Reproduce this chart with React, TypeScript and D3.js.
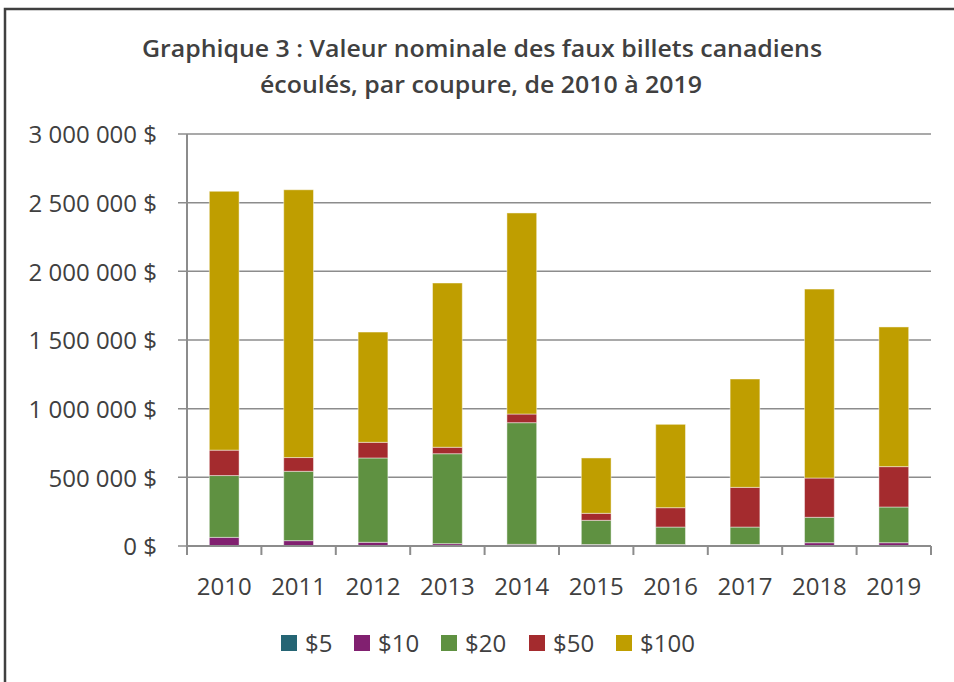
import * as d3 from 'd3';
import { useEffect, useRef } from 'react';

// values (dollars)
const years = ['2010', '2011', '2012', '2013', '2014', '2015', '2016', '2017', '2018', '2019'];
const denominations = ['$5', '$10', '$20', '$50', '$100'];
const v5 = [3000, 2000, 2000, 2000, 2000, 2000, 2000, 2000, 3000, 3000];
const v10 = [60000, 37000, 25000, 15000, 10000, 9000, 9000, 9000, 21000, 21000];
const v20 = [450000, 505000, 614000, 655000, 886000, 176000, 127000, 127000, 185000, 260000];
const v50 = [185000, 100000, 114000, 47000, 63000, 51000, 141000, 289000, 286000, 294000];
const v100 = [1885000, 1950000, 803000, 1196000, 1464000, 403000, 607000, 789000, 1376000, 1017000];
const yTicks = [0, 500000, 1000000, 1500000, 2000000, 2500000, 3000000];
const colors = ['#256574', '#812070', '#5f9141', '#a42b2e', '#bf9e00'];

export default function App() {
  const svgRef = useRef<SVGSVGElement>(null);
  const width = 954;
  const height = 682;
  const marginLeft = 187;
  const marginRight = 23;
  const marginTop = 134;
  const marginBottom = 136;

  useEffect(() => {
    const svg = d3.select(svgRef.current);
    svg.selectAll('*').remove();
    const font = "'Segoe UI', 'Open Sans', sans-serif";
    const textColor = '#404040';
    const axisColor = '#8c8c8c';

    const table = years.map((y, i) => ({
      year: y,
      $5: v5[i],
      $10: v10[i],
      $20: v20[i],
      $50: v50[i],
      $100: v100[i]
    }));
    const series = d3.stack().keys(denominations)(table as any);

    const x = d3
      .scaleBand()
      .domain(years)
      .range([marginLeft, width - marginRight])
      .paddingInner(0.6)
      .paddingOuter(0.3);
    const y = d3
      .scaleLinear()
      .domain([0, 3000000])
      .range([height - marginBottom, marginTop]);

    // frame
    svg
      .append('path')
      .attr('d', `M5,${height} V9 H${width}`)
      .attr('fill', 'none')
      .attr('stroke', '#404040')
      .attr('stroke-width', 2.5);

    // title
    const title = svg
      .append('text')
      .attr('text-anchor', 'middle')
      .attr('font-family', font)
      .attr('font-weight', 600)
      .attr('font-size', 23)
      .attr('fill', textColor);
    title
      .append('tspan')
      .attr('x', 482)
      .attr('y', 57)
      .attr('textLength', 680)
      .attr('lengthAdjust', 'spacingAndGlyphs')
      .text('Graphique 3 : Valeur nominale des faux billets canadiens');
    title
      .append('tspan')
      .attr('x', 481)
      .attr('y', 93)
      .attr('textLength', 442)
      .attr('lengthAdjust', 'spacingAndGlyphs')
      .text('écoulés, par coupure, de 2010 à 2019');

    // grid + y axis labels
    const gy = svg.append('g');
    gy.selectAll('line.grid')
      .data(yTicks)
      .join('line')
      .attr('x1', marginLeft - 9)
      .attr('x2', width - marginRight)
      .attr('y1', (d) => y(d))
      .attr('y2', (d) => y(d))
      .attr('stroke', axisColor)
      .attr('stroke-width', 1.5);
    gy.selectAll('text')
      .data(yTicks)
      .join('text')
      .attr('x', 157)
      .attr('y', (d) => y(d) + 1)
      .attr('dy', '0.35em')
      .attr('text-anchor', 'end')
      .attr('font-family', font)
      .attr('font-size', 24)
      .attr('fill', textColor)
      .text((d) => d3.format(',')(d).replace(/,/g, '\u00a0') + '\u00a0$');
    gy.append('line')
      .attr('x1', marginLeft)
      .attr('x2', marginLeft)
      .attr('y1', marginTop)
      .attr('y2', height - marginBottom)
      .attr('stroke', axisColor)
      .attr('stroke-width', 2);

    // bars
    svg
      .append('g')
      .selectAll('g')
      .data(series)
      .join('g')
      .attr('fill', (d, i) => colors[i])
      .selectAll('rect')
      .data((d) => d)
      .join('rect')
      .attr('x', (d: any) => x(d.data.year)!)
      .attr('width', x.bandwidth())
      .attr('y', (d) => y(d[1]))
      .attr('height', (d) => y(d[0]) - y(d[1]))
      .attr('stroke', '#ffffff')
      .attr('stroke-opacity', 0.45)
      .attr('stroke-width', 1);

    // x axis
    const step = x.step();
    const bounds = d3.range(years.length + 1).map((i) => marginLeft + i * step);
    const gx = svg.append('g');
    gx.append('line')
      .attr('x1', marginLeft)
      .attr('x2', width - marginRight)
      .attr('y1', y(0))
      .attr('y2', y(0))
      .attr('stroke', axisColor)
      .attr('stroke-width', 2);
    gx.selectAll('line.tick')
      .data(bounds)
      .join('line')
      .attr('x1', (d) => d)
      .attr('x2', (d) => d)
      .attr('y1', y(0))
      .attr('y2', y(0) + 9)
      .attr('stroke', axisColor)
      .attr('stroke-width', 2);
    gx.selectAll('text')
      .data(years)
      .join('text')
      .attr('x', (d) => x(d)! + x.bandwidth() / 2)
      .attr('y', 595)
      .attr('text-anchor', 'middle')
      .attr('font-family', font)
      .attr('font-size', 24)
      .attr('fill', textColor)
      .text((d) => d);

    // legend
    const legendX = [281, 354, 441, 529, 616];
    const lg = svg
      .append('g')
      .selectAll('g')
      .data(denominations)
      .join('g')
      .attr('transform', (d, i) => `translate(${legendX[i]},635)`);
    lg.append('rect')
      .attr('width', 16)
      .attr('height', 16)
      .attr('fill', (d, i) => colors[i]);
    lg.append('text')
      .attr('x', 24)
      .attr('y', 9)
      .attr('dy', '0.35em')
      .attr('font-family', font)
      .attr('font-size', 24)
      .attr('fill', textColor)
      .text((d) => d);
  });

  return (
    <svg
      ref={svgRef}
      width={width}
      height={height}
      style={{ position: 'absolute', left: 0, top: 0, background: '#fff' }}
    ></svg>
  );
}
